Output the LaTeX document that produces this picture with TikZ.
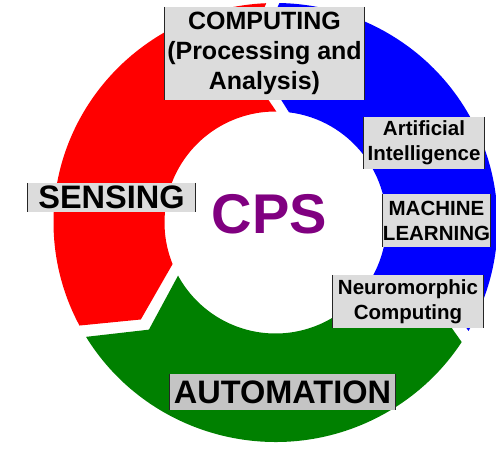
\documentclass[tikz,border=0pt]{standalone}
\usepackage{fontspec}
\setmainfont{Liberation Sans}
\usepackage{tikz}

\definecolor{ringred}{RGB}{255,0,0}
\definecolor{ringgreen}{RGB}{0,128,0}
\definecolor{ringblue}{RGB}{0,0,255}
\definecolor{cpspurple}{RGB}{128,0,128}
\definecolor{lblgray}{RGB}{220,220,220}
\definecolor{lbldark}{RGB}{196,196,196}

\tikzset{
  lbl/.style={fill=lblgray, inner sep=0pt, align=center},
  lbledge/.style={line width=1pt, black!85},
  bigfont/.style={font=\fontsize{32.5}{36}\selectfont\bfseries},
  midfont/.style={font=\fontsize{25}{30}\selectfont\bfseries},
  smallfont/.style={font=\fontsize{20.5}{25}\selectfont\bfseries}
}

\begin{document}
\begin{tikzpicture}[x=1pt,y=1pt]
    \useasboundingbox (0,0) rectangle (496,472);
    % ring of three arrow segments
    \begin{scope}[shift={(275.5,249.5)}]
      \foreach \col/\s/\e in {ringred/86/205,ringgreen/205/324,ringblue/324/446}{
        \fill[\col] (\s+6.4:222pt and 219.5pt)
          arc[start angle=\s+6.4, end angle=\e+3, x radius=222pt, y radius=219.5pt]
          -- (\e+11:166.5pt and 165pt)
          -- (\e-3:111pt)
          arc[start angle=\e-3, end angle=\s+3.6, radius=111pt]
          -- (\s+15.5:166.5pt and 165pt)
          -- cycle;
      }
    \end{scope}
    % labels
    \node[lbl, midfont, minimum width=199pt, minimum height=93pt] (comp) at (264.5,418.5) {COMPUTING\\(Processing and\\Analysis)};
    \node[lbl, smallfont, minimum width=120pt, minimum height=52pt] (ai) at (424,329) {Artificial\\Intelligence};
    \node[lbl, smallfont, minimum width=107pt, minimum height=53pt] (ml) at (436.5,251.5) {MACHINE\\LEARNING};
    \node[lbl, smallfont, minimum width=150pt, minimum height=53pt] (neuro) at (408,170.5) {Neuromorphic\\Computing};
    \node[lbl, bigfont, minimum width=167pt, minimum height=29pt] (sens) at (111.5,274.5) {SENSING};
    \node[lbl, bigfont, fill=lbldark, minimum width=225pt, minimum height=36pt] (auto) at (282.5,80) {AUTOMATION};
    \node[text=cpspurple, font=\fontsize{56}{60}\selectfont\bfseries] (cps) at (269.5,258) {CPS};
    \foreach \n in {comp,ai,ml,neuro,sens,auto}
      \draw[lbledge] (\n.north west) -- (\n.south west) (\n.north east) -- (\n.south east);
\end{tikzpicture}
\end{document}
